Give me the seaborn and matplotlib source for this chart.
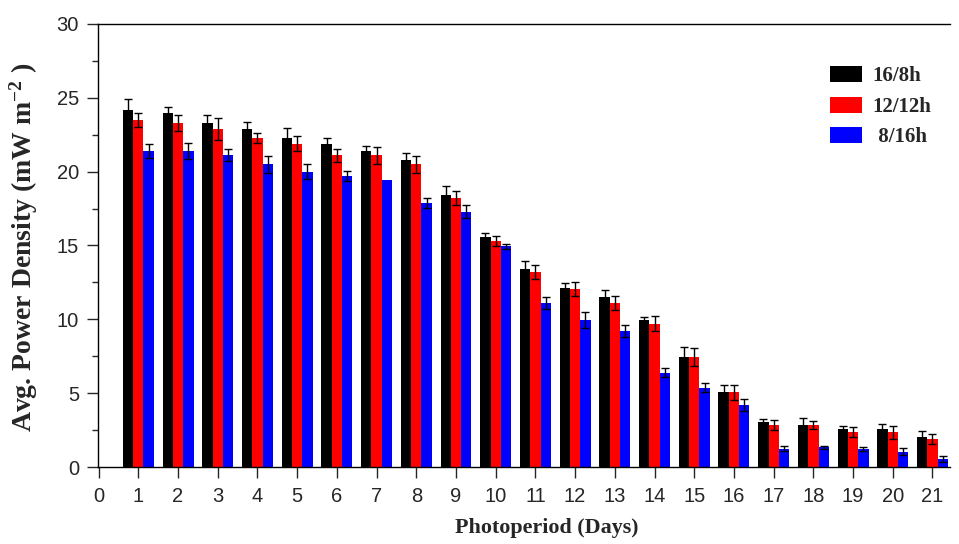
import matplotlib
matplotlib.use("Agg")
import matplotlib.pyplot as plt
import numpy as np
import pandas as pd
import seaborn as sns
from matplotlib.ticker import MultipleLocator

# ---- data ----
days = list(range(1, 22))
series_names = ["16/8h", "12/12h", " 8/16h"]
mean_16_8 = [24.2, 24.0, 23.3, 22.9, 22.3, 21.9, 21.4, 20.8, 18.4, 15.6, 13.4,
             12.1, 11.5, 9.95, 7.45, 5.06, 3.07, 2.82, 2.57, 2.57, 2.05]
err_16_8 = [0.75, 0.4, 0.55, 0.47, 0.68, 0.38, 0.35, 0.45, 0.6, 0.24, 0.54,
            0.34, 0.51, 0.23, 0.65, 0.51, 0.2, 0.5, 0.23, 0.34, 0.39]
mean_12_12 = [23.5, 23.3, 22.9, 22.3, 21.9, 21.1, 21.1, 20.5, 18.2, 15.3, 13.2,
              12.05, 11.1, 9.7, 7.45, 5.06, 2.82, 2.82, 2.35, 2.35, 1.9]
err_12_12 = [0.5, 0.56, 0.75, 0.34, 0.51, 0.45, 0.56, 0.59, 0.47, 0.34, 0.48,
             0.45, 0.45, 0.5, 0.58, 0.51, 0.34, 0.27, 0.34, 0.43, 0.36]
mean_8_16 = [21.4, 21.4, 21.1, 20.5, 20.0, 19.7, 19.4, 17.9, 17.3, 14.95, 11.1,
             9.95, 9.2, 6.38, 5.37, 4.2, 1.24, 1.33, 1.24, 1.04, 0.52]
err_8_16 = [0.45, 0.57, 0.4, 0.59, 0.51, 0.34, 0.0, 0.34, 0.47, 0.18, 0.43,
            0.52, 0.41, 0.3, 0.32, 0.4, 0.16, 0.11, 0.13, 0.23, 0.2]
colors = ["#000000", "#ff0000", "#0000ff"]
x_ticks = list(range(0, 22))

means = [mean_16_8, mean_12_12, mean_8_16]
errs = [err_16_8, err_12_12, err_8_16]

df = pd.DataFrame({
    "day": np.tile(days, 3),
    "value": np.concatenate(means),
    "series": np.repeat(series_names, len(days)),
})

# ---- style ----
sns.set_style("ticks")
plt.rcParams["font.family"] = ["Liberation Sans", "DejaVu Sans"]
plt.rcParams["mathtext.fontset"] = "custom"
plt.rcParams["mathtext.rm"] = "Liberation Serif:bold"
plt.rcParams["mathtext.bf"] = "Liberation Serif:bold"
plt.rcParams["mathtext.it"] = "Liberation Serif:bold:italic"
serif = ["Liberation Serif", "DejaVu Serif"]

fig = plt.figure(figsize=(9.59, 5.44), dpi=100)
ax = fig.add_axes([0.102, 0.1415, 0.889, 0.8145])

sns.barplot(data=df, x="day", y="value", hue="series", hue_order=series_names,
            native_scale=True, palette=colors, errorbar=None, width=0.78,
            saturation=1, ax=ax, linewidth=0)

# error bars from bar geometry
for cont, err_list in zip(ax.containers, errs):
    xs, ys, es = [], [], []
    for bar in cont:
        cx = bar.get_x() + bar.get_width() / 2
        d = int(round(cx))
        if d in days:
            i = days.index(d)
            if err_list[i] > 0:
                xs.append(cx)
                ys.append(bar.get_height())
                es.append(err_list[i])
    ax.errorbar(xs, ys, yerr=es, fmt="none", ecolor="black", elinewidth=1.0,
                capsize=3.0, capthick=1.0, zorder=5)

ax.set_xlim(-0.02, 21.45)
ax.set_ylim(0, 30)
ax.set_xticks(x_ticks)
ax.set_xticklabels([str(i) for i in x_ticks])
ax.yaxis.set_major_locator(MultipleLocator(5))
ax.yaxis.set_minor_locator(MultipleLocator(2.5))
ax.tick_params(axis="x", which="major", direction="out", length=8, width=1,
               labelsize=14.5, pad=6.5)
ax.tick_params(axis="y", which="major", direction="out", length=8, width=1,
               labelsize=14.5, pad=5.5)
ax.tick_params(axis="y", which="minor", direction="out", length=4.5, width=1)
for side in ["left", "bottom", "top"]:
    ax.spines[side].set_visible(True)
    ax.spines[side].set_linewidth(1.0)
    ax.spines[side].set_color("black")
ax.spines["right"].set_visible(False)

ax.set_xlabel("Photoperiod (Days)", fontfamily=serif, fontweight="bold",
              fontsize=15.8)
ax.xaxis.set_label_coords(0.526, -0.115)
ax.set_ylabel("Avg. Power Density (mW m$^{-2}$ )", fontfamily=serif,
              fontweight="bold", fontsize=20)
ax.yaxis.set_label_coords(-0.068, 0.495)

leg = ax.legend(loc="upper left", bbox_to_anchor=(0.859, 0.905), frameon=False,
                prop={"family": serif, "weight": "bold", "size": 15},
                handlelength=1.54, handleheight=0.8, labelspacing=0.5,
                handletextpad=0.5, borderpad=0, borderaxespad=0)

fig.savefig("out.png", dpi=100)
